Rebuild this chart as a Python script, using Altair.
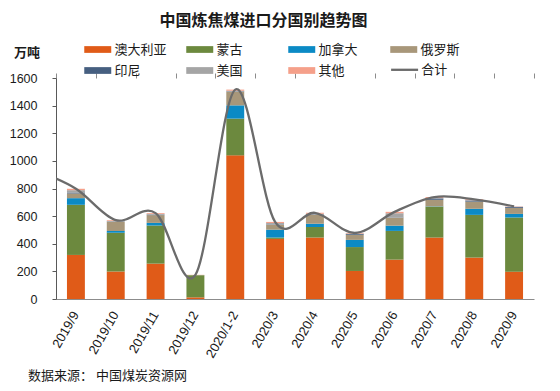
import altair as alt
import pandas as pd

# ---------------- data ----------------
categories = ["2019/9", "2019/10", "2019/11", "2019/12", "2020/1-2", "2020/3",
              "2020/4", "2020/5", "2020/6", "2020/7", "2020/8", "2020/9"]
series_names = ["澳大利亚", "蒙古", "加拿大", "俄罗斯", "印尼", "美国", "其他"]
series_colors = ["#E05B18", "#6C893E", "#0B8AC5", "#A8977A", "#465F80", "#A5A5A5", "#F5A08A"]

australia = [319, 200, 256, 12, 1040, 435, 445, 203, 285, 445, 300, 198]
mongolia  = [363, 279, 276, 160, 266, 10, 77, 173, 208, 224, 309, 392]
canada    = [48, 14, 19, 0, 96, 57, 22, 52, 38, 2, 44, 26]
russia    = [34, 65, 56, 2, 98, 35, 65, 37, 58, 47, 52, 44]
indonesia = [7, 2, 3, 0, 3, 3, 2, 6, 2, 10, 8, 7]
usa       = [17, 5, 6, 0, 5, 10, 6, 3, 30, 3, 3, 1]
others    = [10, 6, 6, 1, 8, 8, 7, 4, 10, 7, 6, 2]

# 合计 line; the curve enters from the left edge,
# so it carries one earlier month (2019/8) that lies outside the plot.
total_label = "合计"
prior_total = 930
totals = [798, 571, 622, 175, 1516, 558, 624, 478, 631, 738, 722, 670]
line_index = [-1, 0, 1, 2, 3, 4, 5, 6, 7, 8, 9, 10, 11]

y_ticks = [0, 200, 400, 600, 800, 1000, 1200, 1400, 1600]
boundary_ticks = [-0.5, 0.5, 1.5, 2.5, 3.5, 4.5, 5.5, 6.5, 7.5, 8.5, 9.5, 10.5, 11.5]

title_text = "中国炼焦煤进口分国别趋势图"
unit_text = "万吨"
source_text = "数据来源： 中国煤炭资源网"

# ---------------- tables ----------------
series_values = [australia, mongolia, canada, russia, indonesia, usa, others]
rows = []
for k, (name, vals) in enumerate(zip(series_names, series_values)):
    for c, v in zip(categories, vals):
        rows.append({"month": c, "country": name, "value": v, "rank": k})
bars_df = pd.DataFrame(rows)

line_df = pd.DataFrame({
    "idx": line_index,
    "total": [prior_total] + totals,
    "series": [total_label] * len(line_index),
})

CJK = "Noto Sans CJK SC"
NUM = "Liberation Sans"

y_axis = alt.Axis(
    title=unit_text, titleAngle=0, titleX=-29.5, titleY=-26,
    titleAlign="center", titleBaseline="middle",
    titleFont=CJK, titleFontSize=13, titleFontWeight="bold", titleColor="#1a1a1a",
    values=y_ticks, format="d", labelFont=NUM, labelFontSize=12.5, labelColor="#1a1a1a",
    labelPadding=15, tickSize=4, tickColor="#595959", domainColor="#595959",
    grid=False,
)
y_scale = alt.Scale(domain=[0, 1600], nice=False)

bars = alt.Chart(bars_df).mark_bar().encode(
    x=alt.X("month:N", sort=categories,
            scale=alt.Scale(paddingInner=0.55, paddingOuter=0.275),
            axis=alt.Axis(title=None, labelAngle=300, labelAlign="right",
                          labelBaseline="middle", labelPadding=13, ticks=False,
                          domainColor="#8c8c8c", labelFont=NUM, labelFontSize=13,
                          labelColor="#1a1a1a", labelOverlap=False)),
    y=alt.Y("value:Q", stack="zero", scale=y_scale, axis=y_axis),
    color=alt.Color("country:N",
                    scale=alt.Scale(domain=series_names, range=series_colors),
                    legend=alt.Legend(title=None, orient="none", direction="horizontal",
                                      legendX=34.75, legendY=-35.5,
                                      columns=4, gridAlign="all", columnPadding=19,
                                      rowPadding=7, symbolType="M-2,-0.5H2V0.5H-2Z",
                                      symbolSize=182, symbolStrokeWidth=0,
                                      symbolOpacity=1,
                                      labelFont=CJK, labelFontSize=13,
                                      labelColor="#1a1a1a", labelOffset=9.75,
                                      padding=0, labelLimit=0)),
    order=alt.Order("rank:Q", sort="ascending"),
)

line = alt.Chart(line_df).mark_line(interpolate="cardinal", clip=True, strokeWidth=2.3).encode(
    x=alt.X("idx:Q", scale=alt.Scale(domain=[-0.5, 11.5], nice=False, zero=False),
            axis=alt.Axis(title=None, values=boundary_ticks, labels=False, domain=False,
                          ticks=True, tickSize=5, tickColor="#8c8c8c", grid=False)),
    y=alt.Y("total:Q", scale=y_scale, axis=y_axis),
    stroke=alt.Stroke("series:N",
                      scale=alt.Scale(domain=[total_label], range=["#6B6B6B"]),
                      legend=alt.Legend(title=None, orient="none", legendX=340.6, legendY=-16.2,
                                        symbolType="M-2,0H2", symbolSize=182,
                                        symbolStrokeWidth=2.3,
                                        labelFont=CJK, labelFontSize=13,
                                        labelColor="#1a1a1a", labelOffset=8.6,
                                        padding=0)),
)

title_mark = alt.Chart(pd.DataFrame({"t": [title_text]})).mark_text(
    font=CJK, fontSize=16, fontWeight="bold", align="center", baseline="middle",
    color="#1a1a1a",
).encode(text="t:N", x=alt.value(207.5), y=alt.value(-57))

source_mark = alt.Chart(pd.DataFrame({"t": [source_text]})).mark_text(
    font=CJK, fontSize=13, align="left", baseline="middle", color="#1a1a1a",
).encode(text="t:N", x=alt.value(-28), y=alt.value(298))

chart = alt.layer(bars, line, title_mark, source_mark).resolve_scale(
    x="independent"
).properties(
    width=478, height=221,
    padding={"left": 48, "top": 70, "right": 18, "bottom": 84},
    autosize=alt.AutoSizeParams(type="none"),
).configure_view(stroke=None)

chart.save("out.html", embed_options={"renderer": "svg", "actions": False})
